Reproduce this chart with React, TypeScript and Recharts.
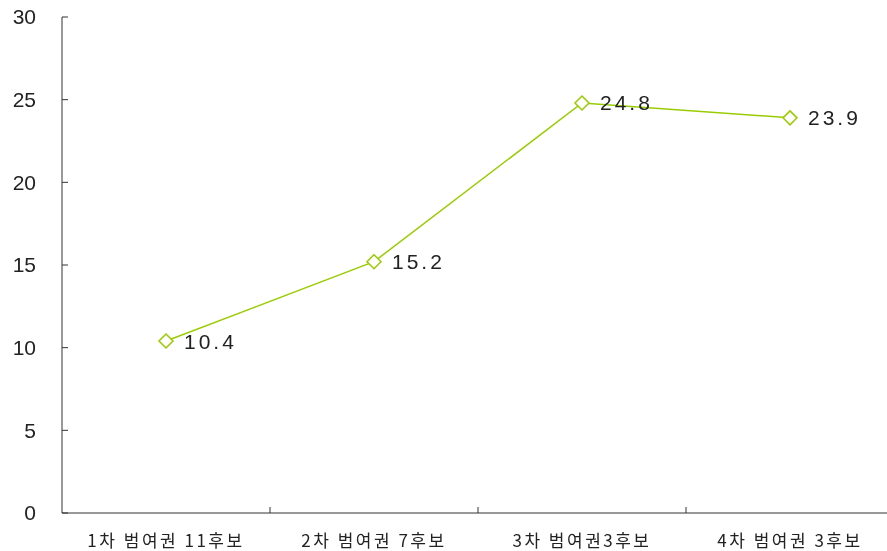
import React from "react";
import { LabelList, Line, LineChart, XAxis, YAxis } from "recharts";

const rounds = ["1차  범여권 11후보", "2차 범여권 7후보", "3차  범여권3후보", "4차 범여권 3후보"];
const support = [10.4, 15.2, 24.8, 23.9];
const yTicks = [0, 5, 10, 15, 20, 25, 30];

const data = rounds.map((name, i) => ({ name, value: support[i] }));

const LINE = "#99cc00";
const AXIS = "#333";

function Diamond(props: any) {
  const { cx, cy } = props;
  if (cx == null || cy == null) return null;
  const r = 7;
  return (
    <path
      d={`M${cx},${cy - r}L${cx + r},${cy}L${cx},${cy + r}L${cx - r},${cy}Z`}
      fill="#fff"
      stroke={LINE}
      strokeWidth={1.5}
    />
  );
}

// category label at the band centre, tick mark on the band boundary
function RoundTick(props: any) {
  const { x, y, payload } = props;
  const half = payload?.offset ?? 0;
  return (
    <g>
      <line x1={x + half} x2={x + half} y1={y} y2={y - 6} stroke={AXIS} />
      <text
        x={x}
        y={y + 34}
        textAnchor="middle"
        fill="#222"
        fontSize={17}
        letterSpacing={2.5}
        fontFamily="'Noto Sans CJK KR', sans-serif"
      >
        {payload.value}
      </text>
    </g>
  );
}

export default function App() {
  return (
    <div style={{ position: "fixed", top: 0, left: 0, width: 887, height: 551, overflow: "hidden" }}>
      <LineChart
        width={900}
        height={551}
        data={data}
        margin={{ top: 17, right: 6, bottom: 0, left: 0 }}
      >
        <XAxis
          dataKey="name"
          scale="band"
          height={38}
          stroke={AXIS}
          tickLine={false}
          tickSize={0}
          tickMargin={0}
          tick={<RoundTick />}
          interval={0}
        />
        <YAxis
          width={62}
          domain={[0, 30]}
          ticks={yTicks}
          stroke={AXIS}
          tickSize={-6}
          tickMargin={32}
          tick={{ fill: "#222", fontSize: 21, fontFamily: "'Liberation Sans', Arial, sans-serif" }}
        />
        <Line
          type="linear"
          dataKey="value"
          stroke={LINE}
          strokeWidth={1.5}
          dot={<Diamond />}
          activeDot={false}
          isAnimationActive={false}
        >
          <LabelList
            dataKey="value"
            position="right"
            offset={18}
            fill="#222"
            fontSize={21}
            letterSpacing={3}
            fontFamily="'Liberation Sans', Arial, sans-serif"
          />
        </Line>
      </LineChart>
    </div>
  );
}
